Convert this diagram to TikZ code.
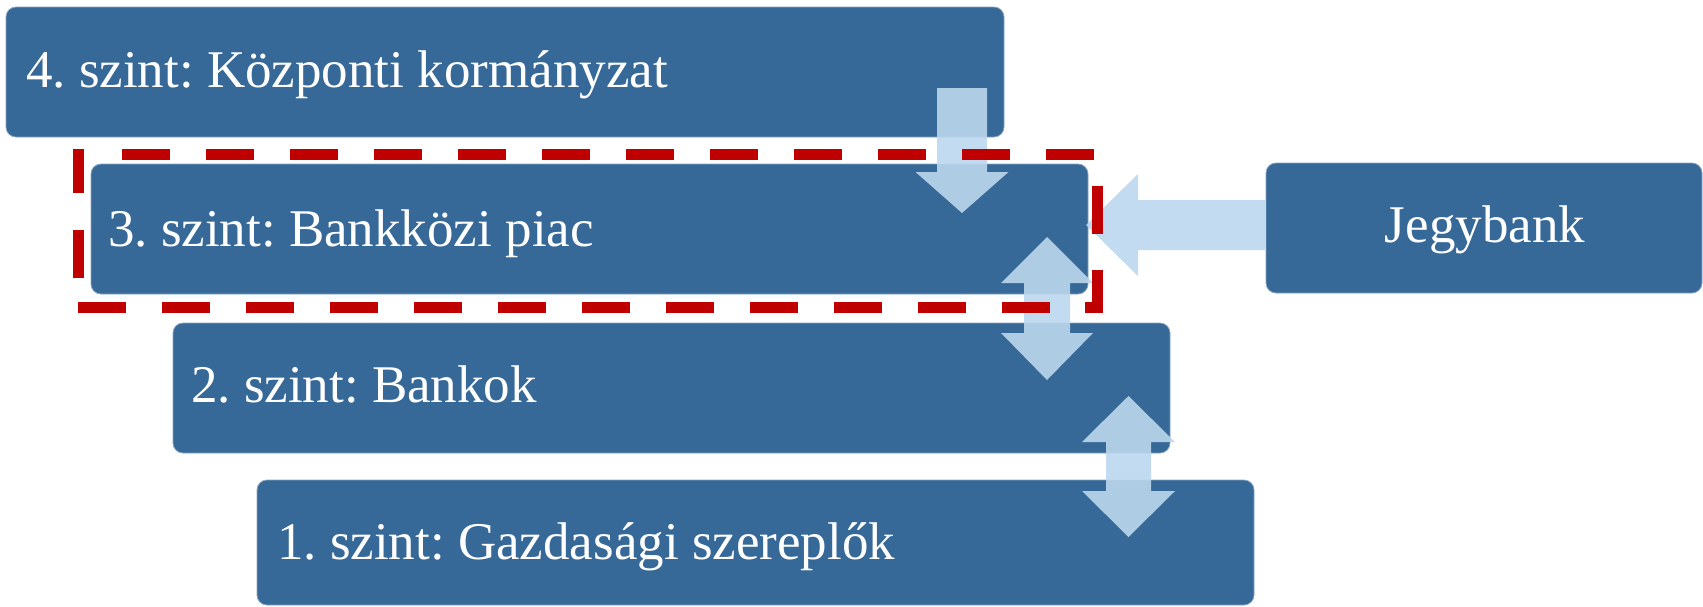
\documentclass[tikz,border=0pt]{standalone}
\usepackage{fontspec}
\setmainfont{Liberation Serif}
\usetikzlibrary{calc}
\frenchspacing
\definecolor{boxblue}{RGB}{54,104,152}
\definecolor{arrowblue}{RGB}{189,215,238}
\definecolor{dashred}{RGB}{192,0,0}
\tikzset{
  levelbox/.style={fill=boxblue, draw=boxblue!60!white, line width=0.4pt, rounded corners=5pt,
    minimum height=65pt, minimum width=498.5pt, inner sep=0pt},
  boxtext/.style={text=white, font=\fontsize{26.5pt}{30pt}\selectfont, inner sep=0pt},
  blockarrow/.style={fill=arrowblue, fill opacity=0.9, draw=none},
  framedash/.style={draw=dashred, line width=5.5pt, line cap=butt}
}
\begin{document}
\begin{tikzpicture}[x=0.5pt, y=-0.5pt]
\useasboundingbox (0,0) rectangle (1703,606);
% boxes
\node[levelbox, minimum width=499pt] (b4) at (505,72) {};
\node[levelbox] (b3) at (589.5,229) {};
\node[levelbox] (b2) at (671.5,388) {};
\node[levelbox, minimum height=62.5pt] (b1) at (755.5,542.5) {};
\node[levelbox, minimum width=218pt] (jb) at (1484,228) {};
% texts
\node[boxtext, anchor=base west] (t4) at ($(b4.west)+(20,15)$) {4. szint: Központi kormányzat};
\node[boxtext, anchor=base west] (t3) at ($(b3.west)+(17,17)$) {3. szint: Bankközi piac};
\node[boxtext, anchor=base west] (t2) at ($(b2.west)+(18,14)$) {2. szint: Bankok};
\node[boxtext, anchor=base west] (t1) at ($(b1.west)+(20,16.5)$) {1. szint: Gazdasági szereplők};
\node[boxtext, anchor=base] (tj) at ($(jb.center)+(1,14)$) {Jegybank};
% arrows
\path[blockarrow] (937,88) -- (987,88) -- (987,172) -- (1008.5,172) -- (962,213) -- (915.5,172) -- (937,172) -- cycle;
\path[blockarrow] (jb.west |- 0,200) -- (1138,200) -- (1138,174) -- (1086,225) -- (1138,276) -- (1138,250) -- (jb.west |- 0,250) -- cycle;
\path[blockarrow] (1047,237) -- (1093,283) -- (1070,283) -- (1070,333) -- (1093,333) -- (1047,380) -- (1001,333) -- (1024,333) -- (1024,283) -- (1001,283) -- cycle;
\path[blockarrow] (1128.5,396) -- (1175,442) -- (1151,442) -- (1151,491) -- (1175,491) -- (1128.5,537) -- (1082,491) -- (1106,491) -- (1106,442) -- (1082,442) -- cycle;
% dashed frame round level 3
\foreach \i in {0,...,11} {
  \draw[framedash] ({122+84*\i},154) -- ({170+84*\i},154);
  \draw[framedash] ({78+84*\i},307) -- ({126+84*\i},307);
}
\draw[framedash] (1097,186) -- (1097,234);
\draw[framedash] (1097,270) -- (1097,312.5);
\draw[framedash] (1085,307) -- (1097,307);
\draw[framedash] (78,148.5) -- (78,193);
\draw[framedash] (78,230) -- (78,278);
\end{tikzpicture}
\end{document}
